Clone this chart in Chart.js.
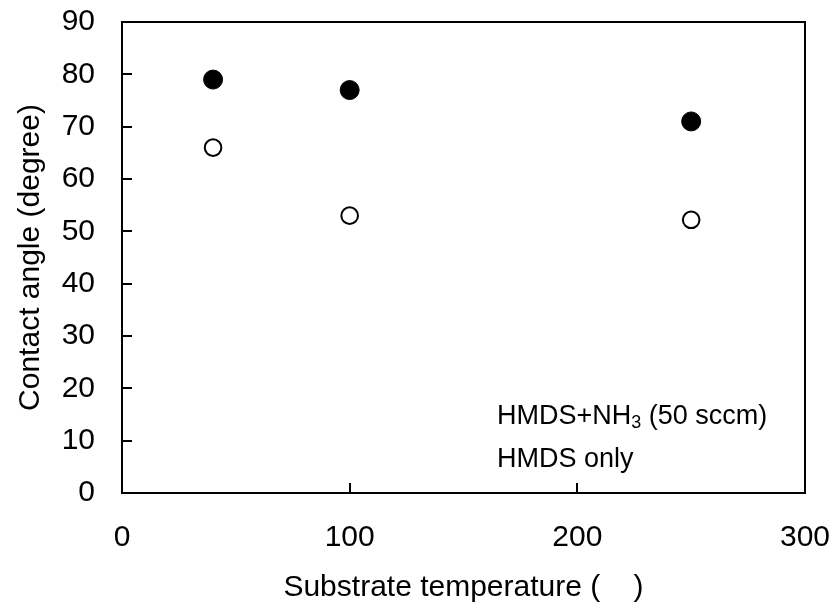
<!DOCTYPE html>
<html>
<head>
<meta charset="utf-8">
<script src="https://cdn.jsdelivr.net/npm/chart.js@4/dist/chart.umd.min.js"></script>
<style>
  html, body { margin: 0; padding: 0; background: #fff; }
  #wrap { width: 836px; height: 608px; }
</style>
</head>
<body>
<div id="wrap"><canvas id="myChart" width="836" height="608"></canvas></div>
<script>
// Substrate temperature (x) and contact angle for each process
const temperatures = [40, 100, 250];
const angleHmdsNh3 = [79, 77, 71];
const angleHmdsOnly = [66, 53, 52.2];

const xTicks = [0, 100, 200, 300];
const yTicks = [0, 10, 20, 30, 40, 50, 60, 70, 80, 90];

const seriesNames = ['HMDS+NH3 (50 sccm)', 'HMDS only'];

const FONT = '"Liberation Sans", Arial, Helvetica, sans-serif';

function toPoints(xs, ys) {
  return xs.map((x, i) => ({ x: x, y: ys[i] }));
}

// fixed scale box size; drop the label overhang padding so the plot area stays put
function fixScale(size) {
  return scale => {
    if (scale.isHorizontal()) scale.height = size;
    else scale.width = size;
    scale.paddingTop = 0;
    scale.paddingBottom = 0;
    scale.paddingLeft = 0;
    scale.paddingRight = 0;
  };
}

// frame around the plot area plus inward tick marks
const framePlugin = {
  id: 'frame',
  beforeDatasetsDraw(chart) {
    const { ctx, chartArea: a, scales } = chart;
    ctx.save();
    ctx.strokeStyle = '#000';
    ctx.lineWidth = 2;
    ctx.strokeRect(a.left, a.top, a.right - a.left, a.bottom - a.top);
    ctx.beginPath();
    yTicks.forEach(v => {
      const y = Math.round(scales.y.getPixelForValue(v));
      ctx.moveTo(a.left, y);
      ctx.lineTo(a.left + 10, y);
    });
    xTicks.forEach(v => {
      const x = Math.round(scales.x.getPixelForValue(v));
      ctx.moveTo(x, a.bottom);
      ctx.lineTo(x, a.bottom - 10);
    });
    ctx.stroke();
    ctx.restore();
  }
};

// text-only legend, with the subscript in NH3
const legendPlugin = {
  id: 'textLegend',
  afterDraw(chart) {
    const { ctx, chartArea: a } = chart;
    const x0 = a.left + 375;
    ctx.save();
    ctx.fillStyle = '#000';
    ctx.textAlign = 'left';
    ctx.textBaseline = 'alphabetic';

    // first line: "HMDS+NH" + sub 3 + " (50 sccm)"
    let y = a.bottom - 69;
    const parts = seriesNames[0].split('NH3');
    ctx.font = '27px ' + FONT;
    let x = x0;
    const head = parts[0] + 'NH';
    ctx.fillText(head, x, y);
    x += ctx.measureText(head).width;
    ctx.font = '18px ' + FONT;
    ctx.fillText('3', x, y + 4);
    x += ctx.measureText('3').width;
    ctx.font = '27px ' + FONT;
    ctx.fillText(parts[1], x, y);

    // second line
    y = a.bottom - 26;
    ctx.fillText(seriesNames[1], x0, y);
    ctx.restore();
  }
};

const ctx = document.getElementById('myChart').getContext('2d');
const myChart = new Chart(ctx, {
  type: 'scatter',
  data: {
    datasets: [{
      label: seriesNames[0],
      data: toPoints(temperatures, angleHmdsNh3),
      pointStyle: 'circle',
      pointRadius: 9.5,
      pointBackgroundColor: '#000',
      pointBorderColor: '#000',
      pointBorderWidth: 1,
      showLine: false,
    }, {
      label: seriesNames[1],
      data: toPoints(temperatures, angleHmdsOnly),
      pointStyle: 'circle',
      pointRadius: 8.3,
      pointBackgroundColor: '#fff',
      pointBorderColor: '#000',
      pointBorderWidth: 2,
      showLine: false,
    }],
  },
  options: {
    responsive: false,
    animation: false,
    events: [],
    layout: {
      padding: { top: 22, right: 31, bottom: 0, left: 0 },
    },
    plugins: {
      legend: { display: false },
      tooltip: { enabled: false },
    },
    scales: {
      x: {
        type: 'linear',
        min: 0,
        max: 300,
        afterBuildTicks: scale => { scale.ticks = xTicks.map(v => ({ value: v })); },
        afterFit: fixScale(115),
        grid: { display: false, drawTicks: false },
        border: { display: false },
        ticks: {
          padding: 27,
          color: '#000',
          font: { family: FONT, size: 30 },
        },
        title: {
          display: true,
          text: 'Substrate temperature (    )',
          color: '#000',
          font: { family: FONT, size: 30 },
          padding: { top: 0, bottom: 2 },
        },
      },
      y: {
        type: 'linear',
        min: 0,
        max: 90,
        afterBuildTicks: scale => { scale.ticks = yTicks.map(v => ({ value: v })); },
        afterFit: fixScale(122),
        grid: { display: false, drawTicks: false },
        border: { display: false },
        ticks: {
          padding: 27,
          color: '#000',
          font: { family: FONT, size: 30 },
        },
        title: {
          display: true,
          text: 'Contact angle (degree)',
          color: '#000',
          font: { family: FONT, size: 30 },
          padding: { top: 13, bottom: 0 },
        },
      },
    },
  },
  plugins: [framePlugin, legendPlugin],
});
</script>
</body>
</html>
